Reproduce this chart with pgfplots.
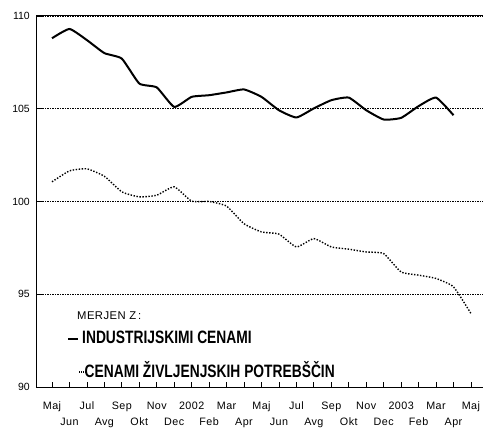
\documentclass[border=0pt]{standalone}
\usepackage{pgfplots}
\pgfplotsset{compat=1.18}
\usepackage{fontspec}
\setmainfont{Liberation Sans}
\newfontfamily\narrow[FakeStretch=0.77]{Liberation Sans Bold}
\newfontfamily\tickfont[LetterSpace=4]{Liberation Sans}
\newcommand\lo[1]{\raisebox{-16.4bp}{#1}}
\pgfplotsset{dotimg/.style={legend image code/.code={\draw[black, line width=1.4bp, dash pattern=on 1.2bp off 0.8bp, overlay] (11bp,5.5bp) -- (17.5bp,5.5bp);}}}
\pgfplotstableread{
x ind
0 108.8
1 109.3
2 108.7
3 108.0
4 107.7
5 106.36
6 106.15
7 105.1
8 105.64
9 105.73
10 105.88
11 106.04
12 105.64
13 104.92
14 104.53
15 105.02
16 105.46
17 105.6
18 104.92
19 104.42
20 104.51
21 105.14
22 105.6
23 104.65
}\indtable
\pgfplotstableread{
x cons
0 101.06
1 101.65
2 101.76
3 101.36
4 100.52
5 100.25
6 100.34
7 100.79
8 100.02
9 100.0
10 99.75
11 98.8
12 98.36
13 98.24
14 97.55
15 98.0
16 97.55
17 97.43
18 97.28
19 97.19
20 96.2
21 96.03
22 95.85
23 95.4
24 93.96
}\constable
\begin{document}
\begin{tikzpicture}
\begin{axis}[
  scale only axis, width=446bp, height=371bp,
  xmin=-0.86, xmax=24.69, ymin=90, ymax=110,
  axis line style={line width=1bp, black},
  xtick={0,...,24},
  xticklabels={Maj,\lo{Jun},Jul,\lo{Avg},Sep,\lo{Okt},Nov,\lo{Dec},2002,\lo{Feb},Mar,\lo{Apr},Maj,\lo{Jun},Jul,\lo{Avg},Sep,\lo{Okt},Nov,\lo{Dec},2003,\lo{Feb},Mar,\lo{Apr},Maj},
  ytick={90,95,100,105,110},
  tick align=inside, major tick length=5bp,
  tick style={black, line width=0.8bp},
  xtick pos=bottom, ytick pos=left,
  xticklabel style={font=\tickfont\fontsize{10.8}{12}\selectfont, inner sep=0pt, text height=8bp, text depth=0pt, anchor=north, yshift=-14bp},
  yticklabel style={font=\fontsize{10.5}{12}\selectfont, inner sep=0pt, anchor=east, xshift=-7bp},
  /pgf/number format/assume math mode=true,
  ymajorgrids,
  grid style={black, line width=0.9bp, dash pattern=on 2bp off 1bp on 1bp off 1bp},
  legend style={draw=none, fill=none, inner sep=0pt, at={(0,0)}, anchor=south west,
    xshift=30bp, yshift=8bp, row sep=0pt, column sep=3bp,
    nodes={inner sep=0pt, anchor=base west},
    font=\narrow\fontsize{18}{20}\selectfont},
  legend cell align=left,
  legend image code/.code={\draw[#1] (0bp,5bp) -- (10bp,5bp);},
]
\addlegendimage{empty legend}
\addlegendentry{\hspace*{-5bp}\rule{0pt}{8bp}\tickfont\fontsize{11.3}{12}\selectfont MERJEN Z\,:}
\addplot[black, line width=2bp, smooth, tension=0.3] table[x=x, y=ind] {\indtable};
\addlegendentry{\rule{0pt}{23bp}INDUSTRIJSKIMI CENAMI}
\addplot[black, line width=1.4bp, dash pattern=on 1.4bp off 1.6bp, smooth, tension=0.3, dotimg] table[x=x, y=cons] {\constable};
\addlegendentry{\rule{0pt}{32.3bp}\hspace*{2.5bp}CENAMI ŽIVLJENJSKIH POTREBŠČIN}
\end{axis}
\pgfresetboundingbox
\useasboundingbox ([shift={(-37bp,-41bp)}]current axis.south west) rectangle ([shift={(0bp,16bp)}]current axis.north east);
\end{tikzpicture}
\end{document}
